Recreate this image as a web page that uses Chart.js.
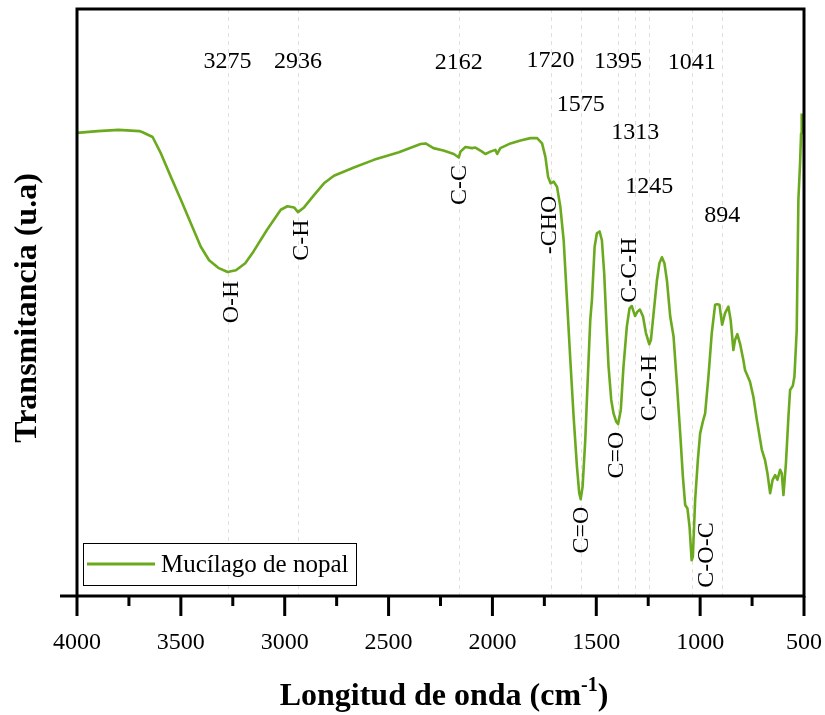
<!DOCTYPE html>
<html>
<head>
<meta charset="utf-8">
<title>FTIR</title>
<script src="https://cdn.jsdelivr.net/npm/chart.js@4.4.1/dist/chart.umd.min.js"></script>
<style>
body{margin:0;background:#fff;}
canvas{display:block;}
</style>
</head>
<body>
<canvas id="ftir" width="825" height="715"></canvas>
<script>
/* DATA */
const seriesName="Mucílago de nopal";
const wavenumber=[4000,3900,3800,3700,3684,3636,3596,3548,3500,3452,3404,3364,3320,3275,3235,3190,3150,3085,3019,2987,2955,2936,2907,2859,2811,2763,2667,2571,2450,2346,2322,2284,2236,2186,2162,2154,2130,2098,2082,2050,2034,2010,1986,1977,1962,1913,1865,1817,1785,1761,1745,1732,1720,1705,1689,1673,1657,1641,1625,1609,1593,1582,1575,1566,1553,1542,1529,1521,1508,1497,1484,1473,1462,1449,1441,1428,1417,1404,1395,1382,1369,1353,1340,1329,1320,1313,1303,1290,1275,1261,1245,1237,1224,1208,1196,1184,1172,1160,1144,1128,1112,1096,1083,1072,1061,1051,1041,1035,1024,1011,1000,987,976,960,944,928,918,907,894,880,864,853,840,832,821,808,792,784,760,744,727,703,688,676,663,651,639,628,615,607,599,587,575,567,554,546,535,527,519,514,511];
const transmittance=[78.9,79.2,79.4,79.2,79.0,78.2,75.4,71.4,67.5,63.5,59.5,57.2,55.9,55.2,55.5,56.7,58.7,62.4,65.8,66.4,66.2,65.4,66.2,68.3,70.3,71.6,73.0,74.3,75.6,77.0,77.1,76.3,75.9,75.3,74.7,75.7,76.5,76.3,76.4,75.7,75.3,75.7,76.0,75.3,76.3,77.1,77.6,78.0,78.0,77.1,74.8,71.4,70.3,70.6,69.7,66.3,60.6,50.4,40.2,30.5,22.0,17.5,16.5,18.6,26.6,36.2,47.0,50.4,59.5,61.8,62.1,60.6,55.0,44.8,39.1,33.4,31.1,29.7,29.3,31.7,39.1,45.9,49.0,49.4,48.4,47.7,48.4,48.8,47.6,44.8,42.9,43.6,48.2,53.8,56.7,57.7,56.7,53.8,47.6,44.2,36.2,27.7,20.3,15.5,14.9,11.8,6.1,6.7,16.4,23.2,27.7,29.7,31.1,37.4,44.8,49.6,49.7,49.6,46.2,48.2,49.3,47.0,41.9,43.6,44.6,43.0,40.2,38.5,36.5,34.0,30.0,24.9,23.2,20.9,17.5,19.8,20.6,19.8,21.5,20.9,17.2,22.6,30.5,35.1,35.8,37.4,45.3,67.5,73.7,78.8,82.2];

const tickValues=[4000,3500,3000,2500,2000,1500,1000,500];
const peakWn=[3275,2936,2162,1720,1575,1395,1313,1245,1041,894];
const bondText=["O-H","C-H","C-C","-CHO","C=O","C=O","C-C-H","C-O-H","C-O-C"];
const bondWn=[3275,2936,2162,1720,1575,1395,1313,1245,1041];

/* LABEL LAYOUT */
const numY=[62,62,63,61,105,62,133,187,63,216];
const bondDx=[4,4,1,-1,1,-1,-5,0,15];
const bondY=[302,240,185,225,530,455,270,388,555];

const green="#6BAA1E";
const serif="'Liberation Serif','Times New Roman',serif";

/* DECORATION */
const frame={
id:"frame",
beforeDatasetsDraw(c){
const ctx=c.ctx,a=c.chartArea,x=c.scales.x;
ctx.save();
ctx.strokeStyle="#e2dfd4";
ctx.lineWidth=1;
ctx.setLineDash([4,4]);
peakWn.forEach(w=>{
let px=Math.round(x.getPixelForValue(w))+0.5;
ctx.beginPath();ctx.moveTo(px,a.top);ctx.lineTo(px,a.bottom);ctx.stroke();
});
ctx.restore();
},
afterDraw(c){
const ctx=c.ctx,a=c.chartArea,x=c.scales.x;
ctx.save();

/* box */
ctx.strokeStyle="#000";
ctx.lineWidth=3;
ctx.strokeRect(a.left,a.top,a.right-a.left,a.bottom-a.top);
ctx.beginPath();ctx.moveTo(60,a.bottom);ctx.lineTo(a.left,a.bottom);ctx.stroke();

/* ticks */
for(let v=4000;v>=500;v-=250){
let px=x.getPixelForValue(v);
let len=v%500===0?20:10;
ctx.beginPath();ctx.moveTo(px,a.bottom);ctx.lineTo(px,a.bottom+len);ctx.stroke();
}

ctx.fillStyle="#000";
ctx.textAlign="center";
ctx.textBaseline="middle";
ctx.font="24px "+serif;
tickValues.forEach(v=>ctx.fillText(String(v),x.getPixelForValue(v),a.bottom+47));

/* axis titles */
ctx.font="bold 32px "+serif;
let t1="Longitud de onda (cm",t3=")";
let w1=ctx.measureText(t1).width,w3=ctx.measureText(t3).width;
ctx.font="bold 20px "+serif;
let w2=ctx.measureText("-1").width;
let sx=444-(w1+w2+w3)/2;
ctx.textAlign="left";
ctx.textBaseline="alphabetic";
ctx.font="bold 32px "+serif;
ctx.fillText(t1,sx,705);
ctx.fillText(t3,sx+w1+w2,705);
ctx.font="bold 20px "+serif;
ctx.fillText("-1",sx+w1,691);

ctx.save();
ctx.translate(28,308);
ctx.rotate(-Math.PI/2);
ctx.textAlign="center";
ctx.textBaseline="middle";
ctx.font="bold 32px "+serif;
ctx.fillText("Transmitancia (u.a)",0,0);
ctx.restore();

/* band positions */
ctx.textAlign="center";
ctx.textBaseline="middle";
ctx.font="24px "+serif;
peakWn.forEach((w,i)=>ctx.fillText(String(w),x.getPixelForValue(w),numY[i]));

bondText.forEach((t,i)=>{
ctx.save();
ctx.translate(x.getPixelForValue(bondWn[i])+bondDx[i],bondY[i]);
ctx.rotate(-Math.PI/2);
ctx.fillText(t,0,0);
ctx.restore();
});

/* legend */
ctx.fillStyle="#fff";
ctx.fillRect(83.5,543.5,273,42);
ctx.lineWidth=1;
ctx.strokeStyle="#000";
ctx.strokeRect(83.5,543.5,273,42);
ctx.strokeStyle=green;
ctx.lineWidth=3;
ctx.beginPath();ctx.moveTo(87,564);ctx.lineTo(155,564);ctx.stroke();
ctx.fillStyle="#000";
ctx.textAlign="left";
ctx.font="25px "+serif;
ctx.fillText(seriesName,161,565);

ctx.restore();
}
};

/* CHART */
new Chart(document.getElementById("ftir"),{
type:"line",
data:{
datasets:[{
label:seriesName,
data:wavenumber.map((w,i)=>({x:w,y:transmittance[i]})),
borderColor:green,
borderWidth:2.6,
pointRadius:0,
tension:0,
borderJoinStyle:"round",
fill:false
}]
},
options:{
responsive:false,
animation:false,
devicePixelRatio:1,
layout:{padding:{left:77,right:21,top:9,bottom:119}},
plugins:{legend:{display:false},tooltip:{enabled:false}},
scales:{
x:{type:"linear",reverse:true,min:500,max:4000,display:false},
y:{min:0,max:100,display:false}
}
},
plugins:[frame]
});
</script>
</body>
</html>
